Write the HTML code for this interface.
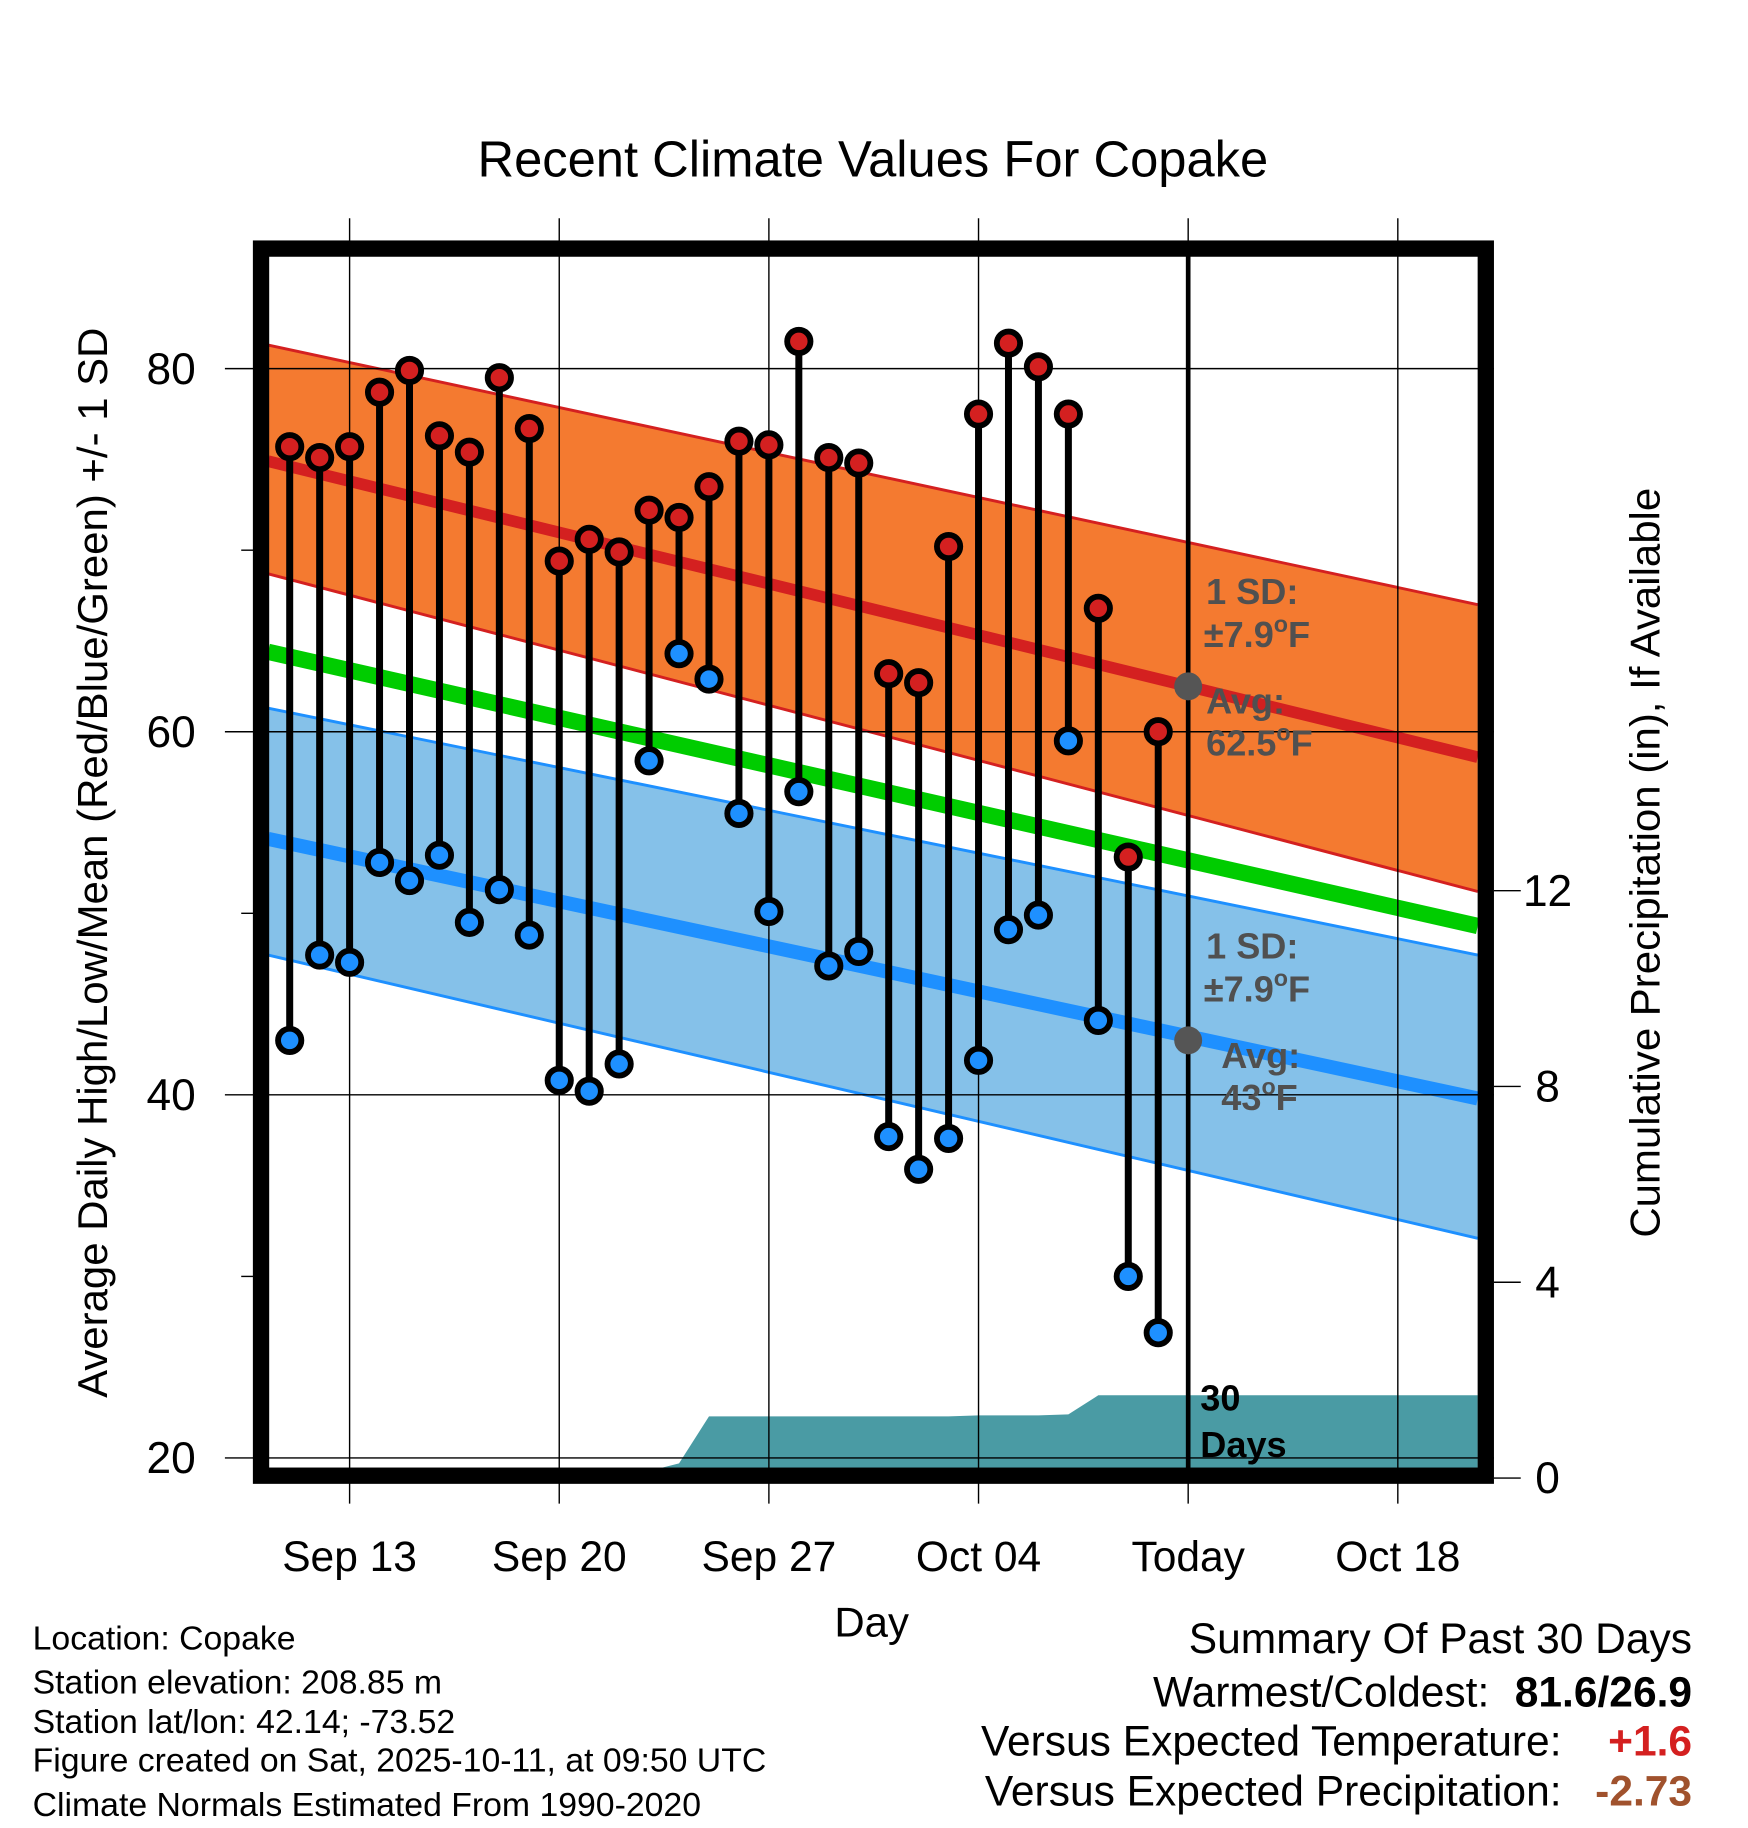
<!DOCTYPE html>
<html><head><meta charset="utf-8"><style>
html,body{margin:0;padding:0;background:#fff}
svg{display:block}
text{font-family:"Liberation Sans",sans-serif}
</style></head><body>
<svg id="chart" width="1748" height="1828" viewBox="0 0 1500 1568" xmlns="http://www.w3.org/2000/svg">
<defs><clipPath id="pc"><rect x="226" y="216" width="1048" height="1048"/></clipPath></defs>
<g id="bands" clip-path="url(#pc)"></g>
<g id="grid"></g>
<g id="marks" clip-path="url(#pc)"></g>
<g id="axes"></g>
<text x="749" y="151" font-size="43.5" text-anchor="middle">Recent Climate Values For Copake</text>
<text transform="translate(92,740) rotate(-90)" font-size="36" text-anchor="middle">Average Daily High/Low/Mean (Red/Blue/Green) +/- 1 SD</text>
<text transform="translate(1424,740) rotate(-90)" font-size="36" text-anchor="middle">Cumulative Precipitation (in), If Available</text>
<text x="748" y="1404" font-size="36" text-anchor="middle">Day</text>
<g font-size="29">
<text x="28" y="1415">Location: Copake</text>
<text x="28" y="1453">Station elevation: 208.85 m</text>
<text x="28" y="1487">Station lat/lon: 42.14; -73.52</text>
<text x="28" y="1520">Figure created on Sat, 2025-10-11, at 09:50 UTC</text>
<text x="28" y="1558">Climate Normals Estimated From 1990-2020</text>
</g>
<g font-size="36.5">
<text x="1452" y="1418" text-anchor="end">Summary Of Past 30 Days</text>
<text x="1278" y="1464" text-anchor="end">Warmest/Coldest:</text>
<text x="1452" y="1464" text-anchor="end" font-weight="bold">81.6/26.9</text>
<text x="1340" y="1506" text-anchor="end">Versus Expected Temperature:</text>
<text x="1452" y="1506" text-anchor="end" font-weight="bold" fill="#d42020">+1.6</text>
<text x="1340" y="1549" text-anchor="end">Versus Expected Precipitation:</text>
<text x="1452" y="1549" text-anchor="end" font-weight="bold" fill="#a0522d">-2.73</text>
</g>
<script>
const days=['Sep 11','Sep 12','Sep 13','Sep 14','Sep 15','Sep 16','Sep 17','Sep 18','Sep 19','Sep 20','Sep 21','Sep 22','Sep 23','Sep 24','Sep 25','Sep 26','Sep 27','Sep 28','Sep 29','Sep 30','Oct 01','Oct 02','Oct 03','Oct 04','Oct 05','Oct 06','Oct 07','Oct 08','Oct 09','Oct 10'];
const highs=[75.7,75.1,75.7,78.7,79.9,76.3,75.4,79.5,76.7,69.4,70.6,69.9,72.2,71.8,73.5,76.0,75.8,81.5,75.1,74.8,63.2,62.7,70.2,77.5,81.4,80.1,77.5,66.8,53.1,60.0];
const lows=[43.0,47.7,47.3,52.8,51.8,53.2,49.5,51.3,48.8,40.8,40.2,41.7,58.4,64.3,62.9,55.5,50.1,56.7,47.1,47.9,37.7,35.9,37.6,41.9,49.1,49.9,59.5,44.1,30.0,26.9];
const precip=[0,0,0,0,0,0,0,0,0,0,0,0,0.1,0.3,1.26,1.26,1.26,1.26,1.26,1.26,1.26,1.26,1.26,1.28,1.28,1.28,1.3,1.69,1.69,1.69];
const xTickLabels=['Sep 13','Sep 20','Sep 27','Oct 04','Today','Oct 18'];
const xTickDays=[0,7,14,21,28,35];
const yTicks=[20,40,60,80];
const yMinorTicks=[30,50,70];
const y2Ticks=[0,4,8,12];
const bandDays=[-2.72,37.67];
const redTop=[81.3,67.0], redMean=[74.9,58.6], redBot=[68.7,51.2];
const greenMean=[64.4,49.3];
const blueTop=[61.3,47.7], blueMean=[54.1,39.8], blueBot=[47.7,32.1];
const todayHigh=62.5, todayLow=43.0;

const X=d=>300+25.7*d;
const Y=t=>316+(80-t)*15.58;
const P=p=>1268-p*42;
const NS='http://www.w3.org/2000/svg';
function mk(tag,parent,at){const e=document.createElementNS(NS,tag);for(const k in at)e.setAttribute(k,at[k]);(typeof parent==='string'?document.getElementById(parent):parent).appendChild(e);return e;}
const x0=X(bandDays[0]),x1=X(bandDays[1]);
function band(top,bot,fill,edge,name){
  let e=mk('polygon','bands',{points:`${x0},${Y(top[0])} ${x1},${Y(top[1])} ${x1},${Y(bot[1])} ${x0},${Y(bot[0])}`,fill:fill});
  
  
  [top,bot].forEach(a=>{let l=mk('line','bands',{x1:x0,y1:Y(a[0]),x2:x1,y2:Y(a[1]),stroke:edge,'stroke-width':2.5});
    
    });
}
function mline(a,col,w,name){let l=mk('line','bands',{x1:x0,y1:Y(a[0]),x2:x1,y2:Y(a[1]),stroke:col,'stroke-width':w});
  
  }
band(redTop,redBot,'#f47a30','#d42020','high-sd-band');
band(blueTop,blueBot,'#85c1e9','#1e90ff','low-sd-band');
mline(redMean,'#d42020',10,'avg-high-line');
mline(greenMean,'#00cc00',14,'avg-mean-line');
mline(blueMean,'#1e90ff',12,'avg-low-line');
let pts=`${X(-2)},1262 `;
precip.forEach((p,i)=>{pts+=`${X(i-2)},${Math.min(P(p),1262)} `;});
pts+=`${x1},${P(precip[precip.length-1])} ${x1},1262`;
let pa=mk('polygon','bands',{points:pts,fill:'#4a9ba4'});


xTickDays.forEach((d,i)=>{
  let g=mk('line','grid',{x1:X(d),y1:187,x2:X(d),y2:1290,stroke:'#000','stroke-width':1.2});
  
  
  let t=mk('text','axes',{x:X(d),y:1348,'font-size':36.5,'text-anchor':'middle'});t.textContent=xTickLabels[i];
  
  
});
yTicks.forEach(v=>{
  let g=mk('line','grid',{x1:193,y1:Y(v),x2:1282,y2:Y(v),stroke:'#000','stroke-width':1.2});
  
  
  let t=mk('text','axes',{x:168,y:Y(v)+13,'font-size':38,'text-anchor':'end'});t.textContent=v;
  
  
});
yMinorTicks.forEach(v=>{let g=mk('line','grid',{x1:207,y1:Y(v),x2:220,y2:Y(v),stroke:'#000','stroke-width':1.2});
  
  });
y2Ticks.forEach(v=>{
  let g=mk('line','grid',{x1:1282,y1:P(v),x2:1305,y2:P(v),stroke:'#000','stroke-width':1.2});
  
  
  let t=mk('text','axes',{x:1328,y:P(v)+13,'font-size':38,'text-anchor':'middle'});t.textContent=v;
  
  
});
let tl=mk('line','marks',{x1:X(28),y1:216,x2:X(28),y2:1264,stroke:'#000','stroke-width':4});


highs.forEach((h,i)=>{
  const x=X(i-2);
  let l=mk('line','marks',{x1:x,y1:Y(h),x2:x,y2:Y(lows[i]),stroke:'#000','stroke-width':6});
  
  
  let c1=mk('circle','marks',{cx:x,cy:Y(h),r:10,fill:'#d42020',stroke:'#000','stroke-width':5});
  
  
  let c2=mk('circle','marks',{cx:x,cy:Y(lows[i]),r:10,fill:'#1e90ff',stroke:'#000','stroke-width':5});
  
  
});
[todayHigh,todayLow].forEach(v=>{let c=mk('circle','marks',{cx:X(28),cy:Y(v),r:12,fill:'#555'});
  
  });
function lab(x,y,txt,deg,name,fill){
  let t=mk('text','marks',{x:x,y:y,'font-size':31,'font-weight':'bold',fill:fill});
  
  
  let a=mk('tspan',t,{});a.textContent=txt;
  if(deg){let b=mk('tspan',t,{dy:-13,'font-size':20});b.textContent='o';
    let c=mk('tspan',t,{dy:13});c.textContent='F';}
}
const g='#505050';
lab(1035,518,'1 SD:',false,'high-sd-label',g);
lab(1033,555,'±7.9',true,'high-sd-value',g);
lab(1035,612,'Avg:',false,'high-avg-label',g);
lab(1035,648,'62.5',true,'high-avg-value',g);
lab(1035,822,'1 SD:',false,'low-sd-label',g);
lab(1033,859,'±7.9',true,'low-sd-value',g);
lab(1048,916,'Avg:',false,'low-avg-label',g);
lab(1048,952,'43',true,'low-avg-value',g);
lab(1030,1210,'30',false,'days-label-num','#000');
lab(1030,1250,'Days',false,'days-label-text','#000');
let fr=mk('rect','axes',{x:224,y:213,width:1051,height:1053,fill:'none',stroke:'#000','stroke-width':14});


</script>
</svg>
</body></html>
